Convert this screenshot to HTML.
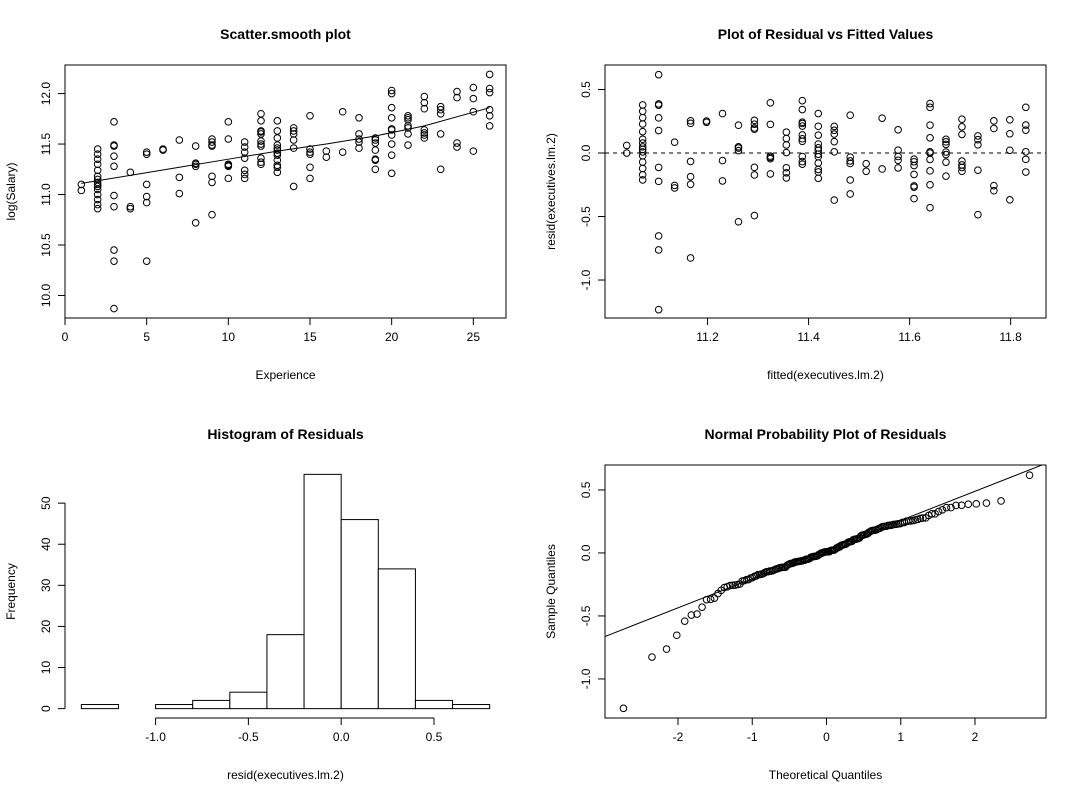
<!DOCTYPE html>
<html><head><meta charset="utf-8"><style>
body{margin:0;background:#fff}
svg{display:block;font-family:"Liberation Sans",sans-serif}
</style></head><body>
<svg id="c" width="1080" height="800"></svg>
<script>
const expCols=[1,2,3,4,5,6,7,8,9,10,11,12,13,14,15,16,17,18,19,20,21,22,23,24,25,26];
const salCols=[
[11.10,11.04],
[11.45,11.40,11.35,11.30,11.24,11.18,11.15,11.12,11.10,11.08,11.05,11.0,10.95,10.90,10.86],
[11.72,11.49,11.48,11.38,11.28,10.99,10.88,10.45,10.34,9.87],
[11.22,10.88,10.86],
[11.42,11.40,11.10,10.98,10.92,10.34],
[11.45,11.44],
[11.54,11.17,11.01],
[11.48,11.31,11.30,11.28,10.72],
[11.55,11.52,11.49,11.48,11.18,11.12,10.80],
[11.72,11.55,11.30,11.29,11.28,11.16],
[11.52,11.47,11.42,11.36,11.24,11.20,11.16],
[11.80,11.73,11.63,11.62,11.60,11.53,11.50,11.48,11.36,11.32,11.30],
[11.73,11.63,11.56,11.49,11.46,11.44,11.41,11.39,11.34,11.29,11.27,11.22],
[11.66,11.63,11.60,11.54,11.46,11.08],
[11.78,11.45,11.42,11.40,11.27,11.16],
[11.43,11.37],
[11.82,11.42],
[11.76,11.60,11.55,11.52,11.46],
[11.56,11.54,11.51,11.44,11.35,11.34,11.25],
[12.03,12.00,11.86,11.76,11.65,11.64,11.59,11.50,11.39,11.21],
[11.78,11.76,11.74,11.68,11.66,11.60,11.49],
[11.97,11.91,11.85,11.64,11.61,11.59,11.56],
[11.87,11.84,11.80,11.60,11.25],
[12.02,11.96,11.51,11.47],
[12.06,11.95,11.82,11.43],
[12.19,12.05,12.01,11.84,11.78,11.68]];
const smoothX=[1,4,7,10,13,16,19,22,26];
const smoothY=[11.11,11.19,11.27,11.35,11.43,11.50,11.58,11.68,11.86];
const fitIntercept=11.04, fitSlope=0.0316;
const histBreaks=[-1.4,-1.2,-1.0,-0.8,-0.6,-0.4,-0.2,0,0.2,0.4,0.6,0.8];
const histCounts=[1,0,1,2,4,18,57,46,34,2,1];
const tl_xt=[0,5,10,15,20,25], tl_yt=[10.0,10.5,11.0,11.5,12.0];
const tr_xt=[11.2,11.4,11.6,11.8], tr_yt=[-1.0,-0.5,0.0,0.5];
const bl_xt=[-1.0,-0.5,0.0,0.5], bl_yt=[0,10,20,30,40,50];
const br_xt=[-2,-1,0,1,2], br_yt=[-1.0,-0.5,0.0,0.5];

const svg=document.getElementById('c');const NS='http://www.w3.org/2000/svg';
function mk(t,a,p){const e=document.createElementNS(NS,t);for(const k in a)e.setAttribute(k,a[k]);(p||svg).appendChild(e);return e;}
function txt(s,x,y,o){o=o||{};const e=mk('text',{x:x,y:y,'font-size':o.fs||12,'text-anchor':'middle','font-weight':o.bold?'bold':'normal'});if(o.rot)e.setAttribute('transform','rotate(-90 '+x+' '+y+')');e.textContent=s;return e;}
function lin(d0,d1,r0,r1){return v=>r0+(v-d0)/(d1-d0)*(r1-r0);}
function fmt(v,dec){return v.toFixed(dec);}
function panel(o){
 const g=mk('g',{});
 if(o.box){const b=mk('rect',{x:o.L,y:o.T,width:o.R-o.L,height:o.B-o.T,fill:'none',stroke:'#000'},g);}
 const ax=mk('g',{},g);
 const xa=o.xt[0],xb=o.xt[o.xt.length-1];
 mk('line',{x1:o.sx(xa),x2:o.sx(xb),y1:o.B,y2:o.B,stroke:'#000'},ax);
 const yb0=o.B;
 o.xt.forEach(v=>{const x=o.sx(v);mk('line',{x1:x,x2:x,y1:yb0,y2:yb0+7,stroke:'#000'},ax);const t=txt(fmt(v,o.xd),x,yb0+23,{});ax.appendChild(t);});
 const ay=mk('g',{},g);
 const ya=o.yt[0],yb=o.yt[o.yt.length-1];
 mk('line',{x1:o.L,x2:o.L,y1:o.sy(ya),y2:o.sy(yb),stroke:'#000'},ay);
 o.yt.forEach(v=>{const y=o.sy(v);mk('line',{x1:o.L,x2:o.L-7,y1:y,y2:y,stroke:'#000'},ay);const t=txt(fmt(v,o.yd),o.L-15,y,{rot:1});ay.appendChild(t);});
 const ti=txt(o.title,(o.L+o.R)/2,o.T-26,{bold:1,fs:14});g.appendChild(ti);
 const xl=txt(o.xl,(o.L+o.R)/2,o.B+61,{});g.appendChild(xl);
 const yl=txt(o.yl,o.L-50,(o.T+o.B)/2,{rot:1});g.appendChild(yl);
 return g;}
function pt(g,x,y){const c=mk('circle',{cx:x,cy:y,r:3.3,fill:'none',stroke:'#000','stroke-width':1},g);}

const exps=[],sals=[];
expCols.forEach((e,i)=>salCols[i].forEach(s=>{exps.push(e);sals.push(s);}));
const fitted=exps.map(e=>fitIntercept+fitSlope*(e-1));
const resid=sals.map((s,i)=>s-fitted[i]);

{const L=65,R=506,T=65,B=318;const sx=lin(0,27,L,R),sy=lin(9.777,12.283,B,T);
 const g=panel({name:'scatter-smooth-panel',L,R,T,B,sx,sy,box:1,xt:tl_xt,yt:tl_yt,xd:0,yd:1,title:'Scatter.smooth plot',xl:'Experience',yl:'log(Salary)'});
 exps.forEach((e,i)=>pt(g,sx(e),sy(sals[i])));
 const p=mk('polyline',{points:smoothX.map((x,i)=>sx(x)+','+sy(smoothY[i])).join(' '),fill:'none',stroke:'#000'},g);
 }
{const L=605,R=1046,T=65,B=318;const sx=lin(10.997,11.870,L,R),sy=lin(-1.299,0.693,B,T);
 const g=panel({name:'residual-vs-fitted-panel',L,R,T,B,sx,sy,box:1,xt:tr_xt,yt:tr_yt,xd:1,yd:1,title:'Plot of Residual vs Fitted Values',xl:'fitted(executives.lm.2)',yl:'resid(executives.lm.2)'});
 fitted.forEach((f,i)=>pt(g,sx(f),sy(resid[i])));
 const l=mk('line',{x1:L,x2:R,y1:sy(0),y2:sy(0),stroke:'#000','stroke-dasharray':'4,4'},g);
 }
{const L=65,R=506,T=465,B=718;const sx=lin(-1.488,0.888,L,R),sy=lin(-2.28,59.28,B,T);
 const g=panel({name:'histogram-panel',L,R,T,B,sx,sy,box:0,xt:bl_xt,yt:bl_yt,xd:1,yd:0,title:'Histogram of Residuals',xl:'resid(executives.lm.2)',yl:'Frequency'});
 histCounts.forEach((c,i)=>{const x0=sx(histBreaks[i]),x1=sx(histBreaks[i+1]);const r=mk('rect',{x:x0,y:sy(c),width:x1-x0,height:sy(0)-sy(c),fill:'#fff',stroke:'#000'},g);
 });}
{const L=605,R=1046,T=465,B=718;const sx=lin(-2.983,2.956,L,R),sy=lin(-1.31,0.698,B,T);
 const g=panel({name:'normal-qq-panel',L,R,T,B,sx,sy,box:1,xt:br_xt,yt:br_yt,xd:0,yd:1,title:'Normal Probability Plot of Residuals',xl:'Theoretical Quantiles',yl:'Sample Quantiles'});
 function qnorm(p){const a=[-39.6968302866538,220.946098424521,-275.928510446969,138.357751867269,-30.6647980661472,2.50662827745924],b=[-54.4760987982241,161.585836858041,-155.698979859887,66.8013118877197,-13.2806815528857],c=[-0.00778489400243029,-0.322396458041136,-2.40075827716184,-2.54973253934373,4.37466414146497,2.93816398269878],d=[0.00778469570904146,0.32246712907004,2.445134137143,3.75440866190742];
 let q,r;if(p<0.02425){q=Math.sqrt(-2*Math.log(p));return(((((c[0]*q+c[1])*q+c[2])*q+c[3])*q+c[4])*q+c[5])/((((d[0]*q+d[1])*q+d[2])*q+d[3])*q+1);}
 if(p>1-0.02425){q=Math.sqrt(-2*Math.log(1-p));return-(((((c[0]*q+c[1])*q+c[2])*q+c[3])*q+c[4])*q+c[5])/((((d[0]*q+d[1])*q+d[2])*q+d[3])*q+1);}
 q=p-0.5;r=q*q;return(((((a[0]*r+a[1])*r+a[2])*r+a[3])*r+a[4])*r+a[5])*q/(((((b[0]*r+b[1])*r+b[2])*r+b[3])*r+b[4])*r+1);}
 const s=resid.slice().sort((a,b)=>a-b),n=s.length;
 s.forEach((v,i)=>pt(g,sx(qnorm((i+1-0.5)/n)),sy(v)));
 const q1=s[Math.floor(0.25*(n-1))],q3=s[Math.floor(0.75*(n-1))],z=qnorm(0.75);
 const sl=(q3-q1)/(2*z),ic=q1+sl*z;
 const cp=mk('clipPath',{id:'qc'},g);mk('rect',{x:L,y:T,width:R-L,height:B-T},cp);
 const l=mk('line',{x1:L,x2:R,y1:sy(ic+sl*-2.983),y2:sy(ic+sl*2.956),stroke:'#000','clip-path':'url(#qc)'},g);
 }
</script>
</body></html>
